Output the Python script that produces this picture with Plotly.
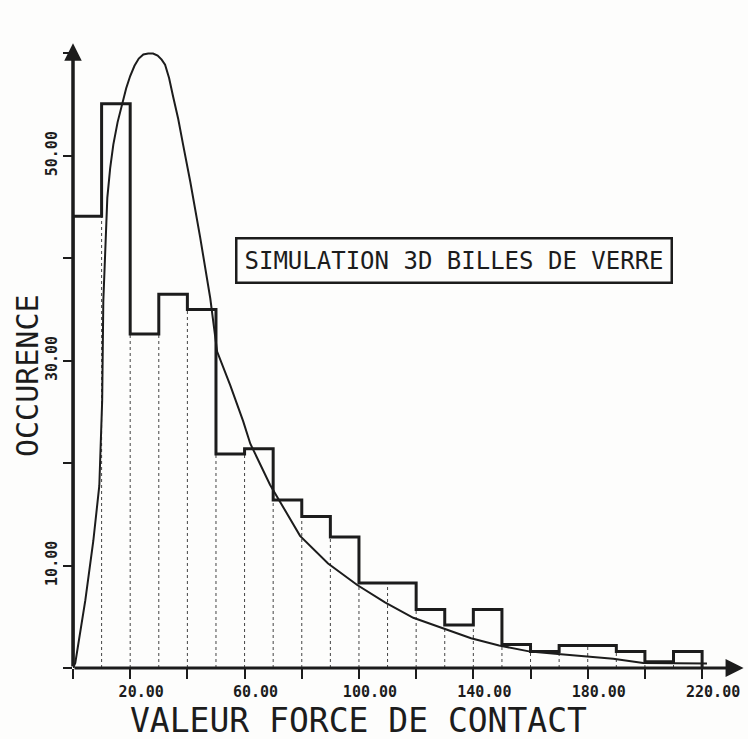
import plotly.graph_objects as go

# ---- data ----
bin_edges = [0, 10, 20, 30, 40, 50, 60, 70, 80, 90, 100, 110, 120, 130, 140, 150,
             160, 170, 180, 190, 200, 210, 220]
occurrences = [44.1, 55.1, 32.6, 36.5, 35.0, 20.9, 21.4, 16.4, 14.8, 12.8, 8.3, 8.3,
               5.7, 4.2, 5.7, 2.3, 1.6, 2.2, 2.2, 1.6, 0.6, 1.6]

curve_x = [0.0, 0.8, 4.3, 7.1, 9.2, 10.2, 10.6, 11.3, 12.0, 13.0, 14.1, 15.6, 17.2, 18.6,
           20.0, 21.5, 23.0, 24.6, 26.3, 28.0, 29.6, 31.0, 32.2, 33.6, 35.0, 36.8, 38.5,
           41.0, 44.5, 48.0, 50.4, 55.0, 59.5, 62.0, 68.9, 79.4, 89.2, 99.4, 109.1, 119.0,
           129.1, 139.2, 149.0, 159.9, 168.6, 188.9, 199.4, 221.7]
curve_y = [0.0, 0.5, 6.6, 12.4, 17.8, 26.1, 35.8, 40.7, 45.9, 48.8, 51.1, 53.3, 55.1, 56.6,
           57.8, 58.8, 59.5, 59.9, 60.0, 60.0, 59.8, 59.4, 58.9, 57.6, 55.8, 53.6, 51.1,
           47.5, 42.0, 36.1, 30.9, 27.6, 24.1, 21.9, 17.9, 12.9, 10.2, 8.1, 6.4, 4.9,
           3.9, 2.9, 2.2, 1.6, 1.4, 0.9, 0.5, 0.45]

x_tickvals = [0, 20, 40, 60, 80, 100, 120, 140, 160, 180, 200, 220]
x_ticktext = ["", "20.00", "", "60.00", "", "100.00", "", "140.00", "", "180.00", "", "220.00"]
y_tickvals = [0, 10, 20, 30, 40, 50, 60]
y_ticktext = ["", "10.00", "", "30.00", "", "50.00", ""]

x_title = "VALEUR FORCE DE CONTACT"
y_title = "OCCURENCE"
box_text = "SIMULATION 3D BILLES DE VERRE"

INK = "#1c1c1c"
MONO = "DejaVu Sans Mono, Liberation Mono, monospace"

# histogram outline (step)
sx = [bin_edges[0]]
sy = [0]
for i, v in enumerate(occurrences):
    sx.append(bin_edges[i])
    sy.append(v)
sx += [bin_edges[-1], bin_edges[-1]]
sy += [occurrences[-1], 0]

# dotted inner bin edges
dx, dy = [], []
for k in range(1, len(bin_edges) - 1):
    dx += [bin_edges[k], bin_edges[k], None]
    dy += [0, min(occurrences[k - 1], occurrences[k]), None]

fig = go.Figure()
fig.add_trace(go.Scatter(x=dx, y=dy, mode="lines",
                         line=dict(color="#444", width=1, dash="dot"),
                         hoverinfo="skip", showlegend=False))
fig.add_trace(go.Scatter(x=sx, y=sy, mode="lines", line_shape="hv",
                         line=dict(color=INK, width=3), showlegend=False))
fig.add_trace(go.Scatter(x=curve_x, y=curve_y, mode="lines",
                         line=dict(color=INK, width=2), showlegend=False))

W, H = 748, 739
ml, mr, mt, mb = 73, 3, 33, 71
xmax, ymax = 235, 62

fig.update_layout(
    width=W, height=H,
    margin=dict(l=ml, r=mr, t=mt, b=mb, autoexpand=False),
    paper_bgcolor="#fdfdfc", plot_bgcolor="#fdfdfc",
    showlegend=False,
    xaxis=dict(range=[0, xmax], showgrid=False, zeroline=False, showline=False,
               tickvals=x_tickvals, ticktext=x_ticktext, ticks="outside",
               ticklen=10, tickwidth=2, tickcolor=INK, ticklabelshift=11,
               tickfont=dict(family=MONO, size=15, color=INK, weight="bold")),
    yaxis=dict(range=[0, ymax], showgrid=False, zeroline=False, showline=False,
               tickvals=y_tickvals, ticktext=y_ticktext, ticks="outside",
               ticklen=9, tickwidth=2, tickcolor=INK, tickangle=-90,
               tickfont=dict(family=MONO, size=15, color=INK, weight="bold")),
)

# axes with arrowheads
fig.add_annotation(x=xmax - 0.5, y=0, ax=0, ay=0, xref="x", yref="y", axref="x", ayref="y",
                   showarrow=True, arrowhead=2, arrowsize=1.2, arrowwidth=3,
                   arrowcolor=INK, text="")
fig.add_annotation(x=0, y=61, ax=0, ay=0, xref="x", yref="y", axref="x", ayref="y",
                   showarrow=True, arrowhead=2, arrowsize=1.0, arrowwidth=3.5,
                   arrowcolor=INK, text="")

pw = W - ml - mr
ph = H - mt - mb
fig.add_annotation(text=x_title, xref="paper", yref="paper",
                   x=(358 - ml) / pw, y=(H - mb - 720) / ph,
                   xanchor="center", yanchor="middle", showarrow=False,
                   font=dict(family=MONO, size=33, color=INK))
fig.add_annotation(text=y_title, xref="paper", yref="paper",
                   x=(27 - ml) / pw, y=(H - mb - 375) / ph, textangle=-90,
                   xanchor="center", yanchor="middle", showarrow=False,
                   font=dict(family=MONO, size=30, color=INK))
fig.add_annotation(text=box_text, xref="x", yref="y", x=133.3, y=39.8,
                   xanchor="center", yanchor="middle", showarrow=False,
                   bordercolor=INK, borderwidth=2.5, borderpad=7, bgcolor="#fdfdfc",
                   font=dict(family=MONO, size=24, color=INK))

fig.write_html("out.html")
